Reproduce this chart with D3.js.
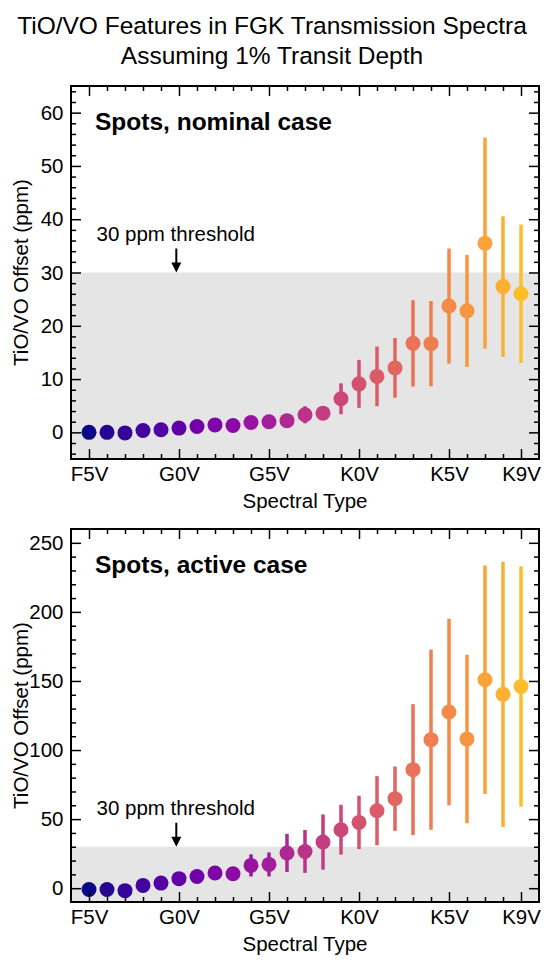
<!DOCTYPE html>
<html>
<head>
<meta charset="utf-8">
<script src="https://cdn.jsdelivr.net/npm/d3@7"></script>
<style>
  body { margin: 0; background: #fff; }
  svg { display: block; font-family: "Liberation Sans", Arial, sans-serif; }
</style>
</head>
<body>
<svg id="fig" width="548" height="960"></svg>
<script>
// types spectraux (F5V -> K9V)
var types = ["F5V","F6V","F7V","F8V","F9V","G0V","G1V","G2V","G3V","G4V","G5V","G6V","G7V","G8V","G9V",
             "K0V","K1V","K2V","K3V","K4V","K5V","K6V","K7V","K8V","K9V"];
var tickTypes = ["F5V","G0V","G5V","K0V","K5V","K9V"];

// cas nominal (ppm)
var nominalVals = [0.0, 0.0, -0.1, 0.35, 0.5, 0.8, 1.1, 1.4, 1.3, 1.85, 2.0, 2.2, 3.3, 3.6, 6.3,
                   9.1, 10.5, 12.1, 16.7, 16.65, 23.7, 22.8, 35.5, 27.35, 26.0];
var nominalErr  = [0.1, 0.1, 0.1, 0.2, 0.2, 0.3, 0.3, 0.4, 0.4, 0.6, 0.7, 0.9, 1.6, 1.2, 2.9,
                   4.5, 5.6, 5.6, 8.1, 8.0, 10.8, 10.5, 19.8, 13.2, 13.0];

// cas actif (ppm)
var activeVals = [-1.0, -1.0, -1.8, 2.0, 3.7, 6.9, 8.5, 11.0, 10.5, 16.5, 17.2, 25.5, 26.6, 33.4, 42.3,
                  47.6, 56.1, 64.8, 85.8, 107.5, 127.5, 108.0, 150.9, 140.3, 146.0];
var activeErr  = [1, 1, 1, 1.5, 2, 2.5, 3, 3.5, 4, 8, 8.7, 13.8, 15.5, 20, 18,
                  19.3, 25, 23.3, 47.4, 65.2, 67.5, 61, 82.7, 96, 87];

var threshold = 30;

var svg = d3.select("#fig");
var FONT = 20.5;

// titre
svg.append("text").attr("x", 272).attr("y", 34).attr("text-anchor", "middle")
   .style("font-size", "24.5px").text("TiO/VO Features in FGK Transmission Spectra");
svg.append("text").attr("x", 272).attr("y", 64).attr("text-anchor", "middle")
   .style("font-size", "24.5px").text("Assuming 1% Transit Depth");

// couleurs : palette plasma tronquée
var color = function(i) { return d3.interpolatePlasma(i / (types.length - 1) * 0.86); };

var x = d3.scaleLinear().domain([-1, 25]).range([71, 539]);

function drawPanel(cfg) {
  var y = d3.scaleLinear().domain(cfg.domain).range([cfg.bottom, cfg.top]);
  var g = svg.append("g");

  // zone grisée sous le seuil
  g.append("rect")
   .attr("x", x.range()[0]).attr("width", x.range()[1] - x.range()[0])
   .attr("y", y(threshold)).attr("height", cfg.bottom - y(threshold))
   .style("fill", "#e5e5e5");

  // barres d'erreur
  g.selectAll("line.err")
   .data(cfg.vals)
   .enter()
   .append("line")
   .attr("class", "err")
   .attr("x1", function(d, i) { return x(i); })
   .attr("x2", function(d, i) { return x(i); })
   .attr("y1", function(d, i) { return y(d - cfg.err[i]); })
   .attr("y2", function(d, i) { return y(d + cfg.err[i]); })
   .style("stroke", function(d, i) { return color(i); })
   .style("stroke-width", 3.5);

  // points
  g.selectAll("circle")
   .data(cfg.vals)
   .enter()
   .append("circle")
   .attr("cx", function(d, i) { return x(i); })
   .attr("cy", function(d) { return y(d); })
   .attr("r", 7.5)
   .style("fill", function(d, i) { return color(i); });

  // axes (ticks vers l'intérieur)
  var majX = tickTypes.map(function(t) { return types.indexOf(t); });
  var minX = d3.range(types.length).filter(function(i) { return majX.indexOf(i) < 0; });

  g.append("g").attr("transform", "translate(0," + cfg.bottom + ")")
    .call(d3.axisBottom(x).tickValues(majX).tickSize(-10).tickPadding(7)
            .tickFormat(function(i) { return types[i]; }));
  g.append("g").attr("transform", "translate(0," + cfg.bottom + ")")
    .call(d3.axisBottom(x).tickValues(minX).tickSize(-5).tickFormat(""));
  g.append("g").attr("transform", "translate(0," + cfg.top + ")")
    .call(d3.axisTop(x).tickValues(majX).tickSize(-10).tickFormat(""));
  g.append("g").attr("transform", "translate(0," + cfg.top + ")")
    .call(d3.axisTop(x).tickValues(minX).tickSize(-5).tickFormat(""));

  g.append("g").attr("transform", "translate(" + x.range()[0] + ",0)")
    .call(d3.axisLeft(y).tickValues(cfg.major).tickSize(-10).tickPadding(7.5));
  g.append("g").attr("transform", "translate(" + x.range()[0] + ",0)")
    .call(d3.axisLeft(y).tickValues(cfg.minor).tickSize(-5).tickFormat(""));
  g.append("g").attr("transform", "translate(" + x.range()[1] + ",0)")
    .call(d3.axisRight(y).tickValues(cfg.major).tickSize(-10).tickFormat(""));
  g.append("g").attr("transform", "translate(" + x.range()[1] + ",0)")
    .call(d3.axisRight(y).tickValues(cfg.minor).tickSize(-5).tickFormat(""));

  g.selectAll(".domain").remove();
  g.selectAll(".tick line").style("stroke", "#000").style("stroke-width", 1.5);
  g.selectAll(".tick text").style("font-size", FONT + "px")
   .style("font-family", "'Liberation Sans', Arial, sans-serif").style("fill", "#000");

  // cadre
  g.append("rect")
   .attr("x", x.range()[0]).attr("y", cfg.top)
   .attr("width", x.range()[1] - x.range()[0]).attr("height", cfg.bottom - cfg.top)
   .style("fill", "none").style("stroke", "#000").style("stroke-width", 2);

  // libellés des axes
  g.append("text").attr("x", (x.range()[0] + x.range()[1]) / 2).attr("y", cfg.bottom + 49)
   .attr("text-anchor", "middle").style("font-size", FONT + "px").text("Spectral Type");
  g.append("text")
   .attr("transform", "translate(28," + (cfg.top + cfg.bottom) / 2 + ") rotate(-90)")
   .attr("text-anchor", "middle").style("font-size", FONT + "px").text("TiO/VO Offset (ppm)");

  // titre du panneau
  g.append("text").attr("x", 95).attr("y", cfg.top + 44)
   .style("font-size", "24.5px").style("font-weight", "bold").text(cfg.label);

  // annotation du seuil
  var ax = x(4.85);
  g.append("text").attr("x", 96.5).attr("y", y(threshold) - 31.5)
   .style("font-size", FONT + "px").text("30 ppm threshold");
  g.append("line")
   .attr("x1", ax).attr("x2", ax)
   .attr("y1", y(threshold) - 24).attr("y2", y(threshold) - 8)
   .style("stroke", "#000").style("stroke-width", 2);
  g.append("path")
   .attr("d", "M" + (ax - 5) + "," + (y(threshold) - 10) + "L" + (ax + 5) + "," + (y(threshold) - 10) +
              "L" + ax + "," + y(threshold) + "Z")
   .style("fill", "#000");
}

drawPanel({
  label: "Spots, nominal case",
  vals: nominalVals, err: nominalErr,
  domain: [-5, 65], top: 86, bottom: 459,
  major: d3.range(0, 61, 10),
  minor: d3.range(-4, 65, 2).filter(function(v) { return v % 10 !== 0; })
});

drawPanel({
  label: "Spots, active case",
  vals: activeVals, err: activeErr,
  domain: [-10, 260], top: 529, bottom: 902,
  major: d3.range(0, 251, 50),
  minor: d3.range(0, 260, 10).filter(function(v) { return v % 50 !== 0; })
});
</script>
</body>
</html>
